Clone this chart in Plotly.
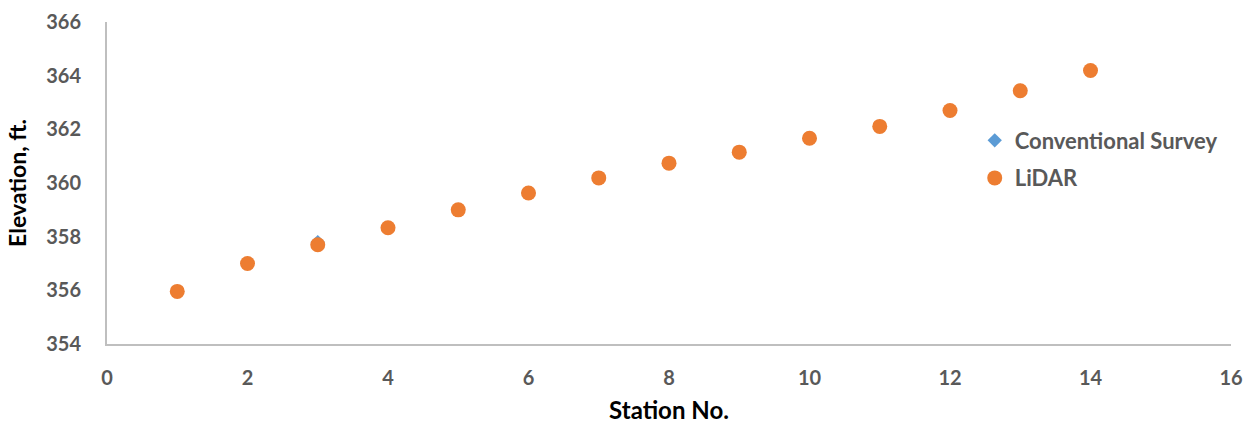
import plotly.graph_objects as go

# Station numbers and measured elevations (ft)
stations = [1, 2, 3, 4, 5, 6, 7, 8, 9, 10, 11, 12, 13, 14]
conventional_survey = [355.96, 357.00, 357.80, 358.33, 359.00, 359.63, 360.19,
                       360.74, 361.15, 361.67, 362.11, 362.70, 363.44, 364.19]
lidar = [355.96, 357.00, 357.70, 358.33, 359.00, 359.63, 360.19,
         360.74, 361.15, 361.67, 362.11, 362.70, 363.44, 364.19]

x_ticks = [0, 2, 4, 6, 8, 10, 12, 14, 16]
y_ticks = [354, 356, 358, 360, 362, 364, 366]

TICK_GRAY = "#595959"
AXIS_GRAY = "#BFBFBF"
FONT = "Lato"

fig = go.Figure()
fig.add_trace(go.Scatter(
    x=stations, y=conventional_survey, mode="markers", name="Conventional Survey",
    legendgroup="a",
    marker=dict(symbol="diamond", size=11, color="#5B9BD5"),
))
fig.add_trace(go.Scatter(
    x=stations, y=lidar, mode="markers", name="LiDAR",
    legendgroup="b",
    marker=dict(symbol="circle", size=15, color="#ED7D31"),
))

fig.update_layout(
    width=1259, height=424,
    margin=dict(l=107, r=28, t=22, b=80, autoexpand=False),
    paper_bgcolor="white", plot_bgcolor="white",
    font=dict(family=FONT, color=TICK_GRAY),
    legend=dict(
        x=0.772, y=0.573, xanchor="left", yanchor="middle",
        font=dict(family=FONT, size=22, color=TICK_GRAY, weight="bold"),
        tracegroupgap=6, itemwidth=30,
        bgcolor="rgba(0,0,0,0)",
    ),
    showlegend=True,
)

fig.update_xaxes(
    range=[0, 16], tickvals=x_ticks, showgrid=False, zeroline=False,
    showline=True, linecolor=AXIS_GRAY, linewidth=2,
    ticks="", ticklabelstandoff=15, automargin=False,
    tickfont=dict(family=FONT, size=20, color=TICK_GRAY, weight="bold"),
    title=dict(text="Station No.", standoff=15,
               font=dict(family=FONT, size=24, color="black", weight="bold")),
)
fig.update_yaxes(
    range=[354, 366], tickvals=y_ticks, showgrid=False, zeroline=False,
    showline=True, linecolor=AXIS_GRAY, linewidth=2,
    ticks="", ticklabelstandoff=20, automargin=False,
    tickfont=dict(family=FONT, size=20, color=TICK_GRAY, weight="bold"),
    title=dict(text="Elevation, ft.", standoff=13,
               font=dict(family=FONT, size=23, color="black", weight="bold")),
)

fig.write_html("out.html")
